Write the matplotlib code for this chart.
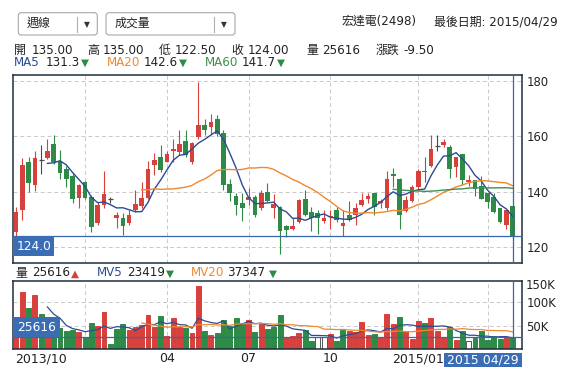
import matplotlib
matplotlib.use("Agg")
import matplotlib.pyplot as plt
import matplotlib.transforms as mtransforms
from matplotlib.patches import Rectangle, FancyBboxPatch
import numpy as np
import pandas as pd

plt.rcParams['font.family'] = ['DejaVu Sans', 'Noto Sans CJK TC']

# weekly candles, 2013/10 .. 2015/04/29
opens = [125.6, 133.4, 150.8, 142.4, 151.4, 152.2, 157.4, 151.0, 148.4, 145.7,
         137.8, 143.6, 138.2, 128.9, 135.2, 137.5, 130.4, 130.7, 128.6, 133.4,
         134.9, 137.8, 149.8, 152.5, 150.8, 154.9, 154.2, 158.5, 150.6, 159.8,
         164.3, 163.4, 166.4, 161.4, 143.0, 138.5, 136.0, 137.0, 138.2, 134.0,
         139.8, 134.3, 134.6, 127.8, 126.5, 129.2, 137.6, 132.8, 132.2, 129.4,
         131.0, 133.4, 127.7, 131.6, 131.6, 135.2, 137.6, 139.6, 135.8, 134.0,
         146.6, 144.8, 133.0, 136.7, 141.8, 147.5, 149.3, 156.6, 156.8, 156.2,
         149.0, 153.8, 143.6, 144.2, 142.1, 139.7, 138.2, 134.2, 128.2, 135.0]
highs = [134.7, 152.2, 152.6, 154.8, 156.8, 159.2, 160.4, 155.0, 149.3, 146.3,
         143.0, 143.8, 139.0, 136.4, 147.4, 138.3, 132.8, 132.2, 133.4, 140.6,
         143.6, 151.0, 154.0, 157.0, 154.6, 159.2, 162.2, 162.2, 158.0, 179.6,
         166.4, 168.0, 167.7, 162.3, 144.5, 139.7, 139.6, 141.3, 139.0, 140.7,
         143.1, 139.1, 135.0, 128.0, 130.5, 137.5, 140.7, 134.6, 133.6, 133.4,
         133.6, 134.6, 133.4, 136.6, 135.8, 139.7, 139.6, 139.6, 137.6, 147.4,
         148.6, 145.0, 138.4, 142.4, 148.4, 152.5, 160.4, 160.4, 159.2, 157.0,
         152.6, 153.8, 146.0, 144.2, 145.7, 139.7, 139.7, 134.2, 133.3, 135.0]
lows = [124.2, 129.8, 140.0, 140.3, 146.6, 151.8, 150.2, 144.5, 141.8, 135.8,
        134.2, 137.5, 125.6, 128.0, 134.2, 135.9, 126.8, 124.3, 128.2, 132.8,
        134.0, 137.5, 146.0, 147.2, 150.8, 150.8, 153.2, 152.6, 150.2, 159.2,
        160.4, 161.0, 160.2, 140.7, 136.6, 131.6, 129.5, 135.3, 131.1, 133.6,
        136.2, 130.5, 117.4, 123.7, 126.2, 128.9, 131.4, 125.7, 124.7, 128.8,
        126.6, 129.2, 124.0, 129.5, 128.0, 134.8, 136.1, 131.6, 134.0, 133.4,
        141.8, 126.5, 132.8, 136.4, 140.6, 143.5, 149.0, 154.6, 156.2, 145.0,
        145.4, 142.4, 142.1, 138.5, 137.3, 134.2, 132.2, 128.6, 126.5, 122.5]
closes = [132.8, 149.6, 143.3, 152.2, 151.4, 154.8, 150.8, 146.9, 144.8, 137.6,
          142.4, 137.8, 127.4, 135.2, 139.1, 137.5, 131.8, 127.7, 131.6, 135.5,
          137.8, 148.4, 151.6, 147.8, 153.8, 155.4, 157.4, 153.2, 157.6, 164.3,
          162.2, 165.2, 160.8, 142.3, 139.5, 135.4, 134.2, 138.2, 131.6, 139.5,
          136.6, 135.5, 126.0, 126.3, 127.8, 137.0, 131.6, 130.5, 130.5, 130.5,
          131.2, 129.8, 128.9, 129.8, 134.2, 137.0, 138.4, 134.6, 136.7, 144.8,
          145.6, 131.6, 137.2, 141.8, 147.5, 147.0, 155.4, 156.6, 158.0, 148.1,
          152.6, 144.2, 144.2, 140.9, 137.6, 136.3, 132.8, 129.1, 133.3, 124.0]
volumes = [30000, 122000, 86800, 115000, 74800, 50000, 45000, 44500, 38800, 40900,
           36600, 25300, 56400, 49400, 79000, 11200, 43700, 53600, 40900, 48000,
           51500, 72700, 48000, 70600, 28200, 66300, 48000, 45000, 35200, 134000,
           39400, 30200, 35200, 62000, 50000, 66300, 55000, 62000, 37300, 56400,
           43700, 48000, 72700, 25300, 27500, 34500, 40900, 18300, 25300, 25300,
           32400, 17600, 40900, 39400, 37300, 57800, 30200, 32400, 25300, 74800,
           53600, 67700, 38700, 21800, 60000, 56400, 66300, 39400, 25300, 48000,
           19700, 38700, 17600, 24600, 38700, 19700, 28200, 22500, 25300, 25616]

quarter_weeks = [11, 24, 37, 50, 64, 75]
quarter_labels = ['', '04', '07', '10', '2015/01', '']
first_label = '2013/10'

stock_name = '宏達電(2498)'
last_date = '2015/04/29'
last_ohlc = [135.00, 135.00, 122.50, 124.00]
ohlc_names = ['開', '高', '低', '收']
last_volume = 25616
last_change = -9.50
ma_windows = [5, 20, 60]
ma_values = [131.3, 142.6, 141.7]
mv_windows = [5, 20]
mv_values = [23419, 37347]

RED = '#d8403c'
GREEN = '#2e8a47'
DOJI = '#4a4a4a'
MA_COLORS = ['#2b4c94', '#f0882c', '#3f8f52']
CROSS = '#3767a8'
LABEL_BG = '#3a6db4'
BORDER = '#1e2d3c'
GRID = '#c9c9c9'
TXT = '#222222'

W, H = 586, 382
fig = plt.figure(figsize=(W / 100, H / 100), dpi=100)
fig.patch.set_facecolor('white')

o = np.array(opens); h = np.array(highs); l = np.array(lows); c = np.array(closes)
v = np.array(volumes, dtype=float)
n = len(c)
x = np.arange(n)
xlim = (-0.43, 80.53)

cols = np.where(np.abs(c - o) < 0.05, DOJI, np.where(c > o, RED, GREEN))

# ---- price panel
ax = fig.add_axes([13.3 / W, 1 - 262.7 / H, 509 / W, 188 / H])
ax.set_xlim(*xlim)
ax.set_ylim(114.44, 182.27)
ax.vlines(x, l, h, colors=cols, lw=0.8, zorder=2)
body = np.abs(c - o)
ax.bar(x, np.where(body < 0.05, 0, body), bottom=np.minimum(o, c), width=0.74,
       color=cols, lw=0, zorder=2)
doji = body < 0.05
ax.hlines(c[doji], x[doji] - 0.4, x[doji] + 0.4, colors=DOJI, lw=0.9, zorder=2)

s = pd.Series(c)
for w, col in zip(ma_windows, MA_COLORS):
    ma = s.rolling(w).mean().to_numpy()
    ma[:w] = np.nan
    ax.plot(x, ma, color=col, lw=1.0, zorder=3)

ax.set_xticks(quarter_weeks)
ax.set_xticklabels([])
ax.set_yticks([120, 140, 160, 180])
ax.yaxis.tick_right()
ax.tick_params(length=0, labelsize=8.4, labelcolor=TXT, pad=3)
ax.tick_params(axis='x', length=0)
ax.grid(True, color=GRID, ls=(0, (4, 3)), lw=0.7)
ax.set_axisbelow(True)
for sp in ax.spines.values():
    sp.set_color(BORDER)
    sp.set_linewidth(1.1)

ax.axvline(x[-1], color=CROSS, lw=0.9, zorder=4)
ax.axhline(c[-1], color=CROSS, lw=0.9, zorder=4)
tr = mtransforms.blended_transform_factory(ax.transAxes, ax.transData)
ax.add_patch(Rectangle((0, c[-1] - 7.0), 0.0806, 7.0, transform=tr,
                       fc=LABEL_BG, ec='none', zorder=5, clip_on=False))
ax.text(0.0403, c[-1] - 3.6, f'{c[-1]:.1f}', transform=tr, ha='center', va='center',
        color='white', fontsize=8.8, zorder=6)

# ---- volume panel
axv = fig.add_axes([13.3 / W, 1 - 349.3 / H, 509 / W, 68.6 / H])
axv.set_xlim(*xlim)
axv.set_ylim(0, 145300)
dc = np.diff(c, prepend=o[0])
vfc = np.where(np.abs(dc) < 0.05, 'white', np.where(dc > 0, RED, GREEN))
vec = np.where(np.abs(dc) < 0.05, '#555555', vfc)
axv.bar(x, v, width=0.78, color=vfc, edgecolor=vec, lw=0.7, zorder=2)
sv = pd.Series(v)
for w, col in zip(mv_windows, MA_COLORS):
    mv = sv.rolling(w).mean().to_numpy()
    mv[:w] = np.nan
    axv.plot(x, mv, color=col, lw=0.9, zorder=3)
axv.set_xticks(quarter_weeks)
axv.set_xticklabels([])
axv.set_yticks([50000, 100000])
axv.set_yticklabels(['50K', '100K'])
axv.yaxis.tick_right()
axv.tick_params(length=0, labelsize=8.4, labelcolor=TXT, pad=3)
axv.text(1.006, 0.923, '150K', transform=axv.transAxes, ha='left', va='center',
         fontsize=8.4, color=TXT)
axv.grid(True, color=GRID, ls=(0, (4, 3)), lw=0.7)
axv.set_axisbelow(True)
for sp in axv.spines.values():
    sp.set_color(BORDER)
    sp.set_linewidth(1.1)
axv.axvline(x[-1], color=CROSS, lw=0.9, zorder=4)
axv.axhline(v[-1], color=CROSS, lw=0.9, zorder=4)
trv = mtransforms.blended_transform_factory(axv.transAxes, axv.transData)
axv.add_patch(Rectangle((0, v[-1]), 0.0917, 42400, transform=trv,
                        fc=LABEL_BG, ec='none', zorder=5, clip_on=False))
axv.text(0.0458, v[-1] + 21200, f'{int(v[-1])}', transform=trv, ha='center',
         va='center', color='white', fontsize=8.8, zorder=6)

# x labels under the volume panel
trx = mtransforms.blended_transform_factory(axv.transData, axv.transAxes)
for wk, lab in zip(quarter_weeks, quarter_labels):
    if lab:
        axv.text(wk, -0.135, lab, transform=trx, ha='center', va='center',
                 fontsize=9, color=TXT)
axv.text(0.004, -0.135, first_label, transform=axv.transAxes, ha='left',
         va='center', fontsize=9, color=TXT)

# ---- overlay in pixel coordinates for header texts and widgets
ov = fig.add_axes([0, 0, 1, 1])
ov.set_xlim(0, W)
ov.set_ylim(H, 0)
ov.axis('off')


def t(px, py, s, **kw):
    kw.setdefault('fontsize', 8.6)
    kw.setdefault('color', TXT)
    ov.text(px, py, s, ha=kw.pop('ha', 'left'), va='center', **kw)


for x0, x1, div, lab in [(18.3, 97.3, 77.3, '週線'), (106, 235, 214.3, '成交量')]:
    ov.add_patch(FancyBboxPatch((x0, 12.7), x1 - x0, 22.3,
                                boxstyle='round,pad=0,rounding_size=3',
                                fc='white', ec='#a8a8a8', lw=0.8))
    ov.plot([div, div], [16.5, 31.5], color='#b0b0b0', lw=0.8)
    t(div + 6.5, 24.5, '▼', fontsize=5.5, color='#333333')
    t(x0 + 8.5, 23.5, lab, fontsize=8.6)

t(341.7, 21.7, stock_name)
t(434, 21.7, f'最後日期: {last_date}')

info_x = [(14, 32), (87.7, 102.7), (159.3, 175), (231.7, 247.5)]
for (lx, vx), nm, val in zip(info_x, ohlc_names, last_ohlc):
    t(lx, 50.5, nm)
    t(vx, 50.5, f'{val:.2f}')
t(306, 50.5, '量')
t(321.7, 50.5, f'{last_volume}')
t(376, 50.5, '漲跌')
t(403.3, 50.5, f'{last_change:.2f}')

ma_x = [(14.3, 45.7, 80.5), (106.7, 143.3, 178.5), (205, 241.7, 277)]
for (lx, vx, ax_), w, val, col in zip(ma_x, ma_windows, ma_values, MA_COLORS):
    t(lx, 62, f'MA{w}', color=col)
    t(vx, 62, f'{val:.1f}')
    t(ax_, 62.5, '▼', color=GREEN, fontsize=7.5)

t(15, 273, '量')
t(31.7, 273, f'{last_volume}')
t(71, 273.5, '▲', color=RED, fontsize=7.5)
mv_x = [(96.7, 126.7, 166), (191, 226.7, 268.5)]
for (lx, vx, ax_), w, val, col in zip(mv_x, mv_windows, mv_values, MA_COLORS):
    t(lx, 273, f'MV{w}', color=col)
    t(vx, 273, f'{val}')
    t(ax_, 273.5, '▼', color=GREEN, fontsize=7.5)

ov.add_patch(Rectangle((444.3, 352.7), 78, 14, fc=LABEL_BG, ec='none'))
ov.text(483.3, 359.9, '2015 04/29', ha='center', va='center', color='white', fontsize=9)

fig.savefig('out.png', dpi=100)
